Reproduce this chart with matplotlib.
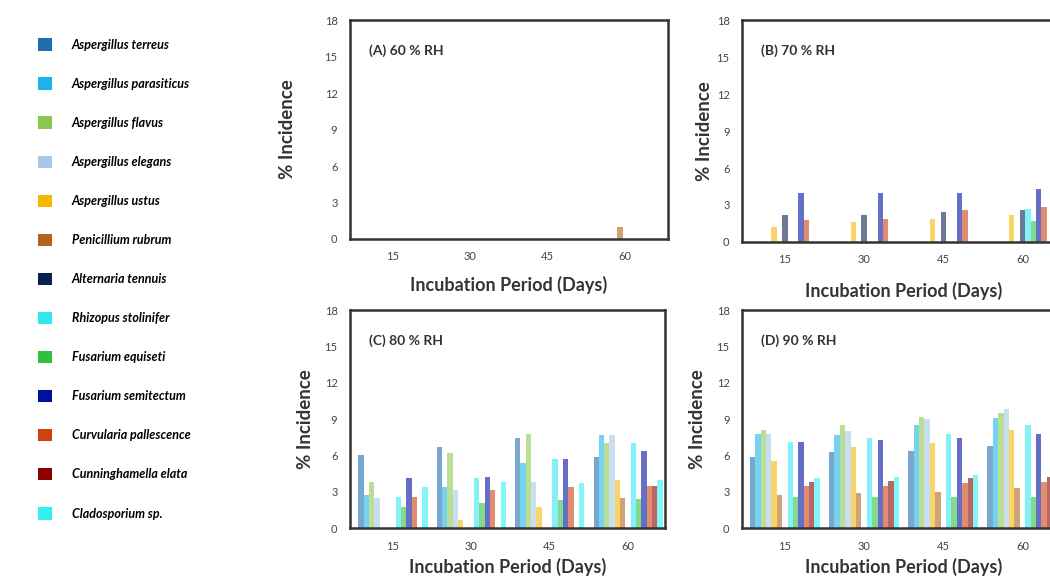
import matplotlib
matplotlib.use("Agg")
import matplotlib.pyplot as plt
from matplotlib.patches import Patch
import numpy as np

plt.rcParams['font.family'] = ['Lato', 'DejaVu Sans']

species = ['Aspergillus terreus', 'Aspergillus parasiticus', 'Aspergillus flavus',
           'Aspergillus elegans', 'Aspergillus ustus', 'Penicillium rubrum',
           'Alternaria tennuis', 'Rhizopus stolinifer', 'Fusarium equiseti',
           'Fusarium semitectum', 'Curvularia pallescence', 'Cunninghamella elata',
           'Cladosporium sp.']
colors = ['#1f6fb0', '#19b4e8', '#8cc850', '#a8c8e8', '#f5b800', '#b5651d',
          '#0a2050', '#30e8f0', '#30c040', '#0010a0', '#d04010', '#8b0000',
          '#30f0f0']
periods = ['15', '30', '45', '60']

# rows = incubation period, columns = species (same order as legend)
rh60 = [[0, 0, 0, 0, 0, 0, 0, 0, 0, 0, 0, 0, 0],
        [0, 0, 0, 0, 0, 0, 0, 0, 0, 0, 0, 0, 0],
        [0, 0, 0, 0, 0, 0, 0, 0, 0, 0, 0, 0, 0],
        [0, 0, 0, 0, 0, 1.0, 0, 0, 0, 0, 0, 0, 0]]
rh70 = [[0, 0, 0, 0, 1.2, 0, 2.2, 0, 0, 4.0, 1.8, 0, 0],
        [0, 0, 0, 0, 1.6, 0, 2.2, 0, 0, 4.0, 1.9, 0, 0],
        [0, 0, 0, 0, 1.9, 0, 2.4, 0, 0, 4.0, 2.6, 0, 0],
        [0, 0, 0, 0, 2.2, 0, 2.6, 2.7, 1.7, 4.3, 2.8, 0, 0]]
rh80 = [[6.0, 2.7, 3.8, 2.5, 0, 0, 0, 2.6, 1.7, 4.1, 2.6, 0, 3.4],
        [6.7, 3.4, 6.2, 3.1, 0.7, 0, 0, 4.1, 2.1, 4.2, 3.1, 0, 3.8],
        [7.4, 5.4, 7.8, 3.8, 1.7, 0, 0, 5.7, 2.3, 5.7, 3.4, 0, 3.7],
        [5.9, 7.7, 7.0, 7.7, 4.0, 2.5, 0, 7.0, 2.4, 6.4, 3.5, 3.5, 4.0]]
rh90 = [[5.9, 7.8, 8.1, 7.8, 5.5, 2.7, 0, 7.1, 2.6, 7.1, 3.5, 3.8, 4.1],
        [6.3, 7.7, 8.5, 8.0, 6.7, 2.9, 0, 7.4, 2.6, 7.3, 3.5, 3.9, 4.2],
        [6.4, 8.5, 9.2, 9.0, 7.0, 3.0, 0, 7.8, 2.6, 7.4, 3.7, 4.1, 4.4],
        [6.8, 9.1, 9.5, 9.8, 8.1, 3.3, 0, 8.5, 2.6, 7.8, 3.8, 4.2, 4.5]]

panels = [('(A) 60 % RH', rh60, [0.3333, 0.5858, 0.3029, 0.3795], (-0.55, 3.55), -0.17, -0.17),
          ('(B) 70 % RH', rh70, [0.7067, 0.5806, 0.3086, 0.3847], (-0.54, 3.55), -0.09, -0.18),
          ('(C) 80 % RH', rh80, [0.3333, 0.0849, 0.3000, 0.3778], (-0.55, 3.47), -0.115, -0.135),
          ('(D) 90 % RH', rh90, [0.7067, 0.0849, 0.3086, 0.3778], (-0.54, 3.55), -0.11, -0.135)]

fig = plt.figure(figsize=(10.5, 5.77), dpi=100)

w = 0.068
x = np.arange(len(periods))
for title, data, pos, xlim, ylx, xly in panels:
    ax = fig.add_axes(pos)
    vals = np.array(data)
    for i in range(len(species)):
        ax.bar(x + (i - 6) * w, vals[:, i], width=w, color=colors[i], alpha=0.6,
               edgecolor='none')
    ax.set_xlim(*xlim)
    ax.set_ylim(0, 18)
    ax.set_yticks(np.arange(0, 19, 3))
    ax.set_xticks(x)
    ax.set_xticklabels(periods)
    ax.tick_params(length=0, labelsize=8, colors='#444444', pad=9)
    for s in ax.spines.values():
        s.set_linewidth(1.8)
        s.set_color('#333333')
    ax.set_ylabel('% Incidence', fontsize=13.5, fontweight='bold', color='#333333')
    ax.yaxis.set_label_coords(ylx, 0.5)
    ax.set_xlabel('Incubation Period (Days)', fontsize=13, fontweight='bold', color='#333333')
    ax.xaxis.set_label_coords(0.5, xly)
    ax.text(0.06, 0.86, title, transform=ax.transAxes, fontsize=10,
            fontweight='bold', color='#333333', va='center')

handles = [Patch(facecolor=c, edgecolor='none') for c in colors]
leg = fig.legend(handles, species, loc='upper left', bbox_to_anchor=(0.025, 0.953),
                 frameon=False, handlelength=1.15, handleheight=1.15,
                 labelspacing=2.13, handletextpad=1.6,
                 prop={'size': 9, 'style': 'italic', 'weight': 'bold'})

fig.savefig('out.png', dpi=100)
